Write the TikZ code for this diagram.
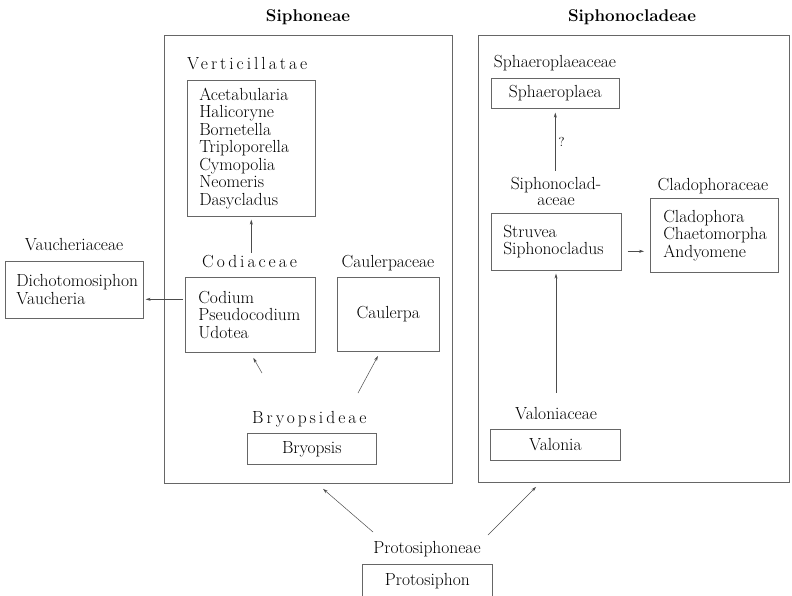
\documentclass[tikz,border=0pt]{standalone}
\usepackage{fontspec}
\setmainfont{Latin Modern Roman}
\usetikzlibrary{arrows.meta,calc}

\newcommand\gesperrt[1]{{\addfontfeature{LetterSpace=17}#1}}

\tikzset{
  every node/.style={font=\fontsize{17.5}{17.5}\selectfont},
  taxbox/.style={draw=black!60, line width=0.6pt, inner xsep=12pt, inner ysep=0pt, anchor=north west},
  bigbox/.style={draw=black!60, line width=0.6pt, inner sep=0pt, anchor=north west},
  famlabel/.style={anchor=base, inner sep=2pt},
  arr/.style={-{Stealth[length=5pt,width=3pt]}, draw=black!70, line width=0.5pt},
}

\begin{document}
\begin{tikzpicture}[x=1pt, y=-1pt]
  \clip (0, 0) rectangle (792, 595);
  % the two groups
  \node[anchor=base, font=\fontsize{17}{17.5}\selectfont\bfseries] (siphtitle) at (308, 21) {Siphoneae};
  \node[anchor=base, font=\fontsize{17}{17.5}\selectfont\bfseries] (cladtitle) at (632, 21) {Siphonocladeae};
  \node[bigbox, minimum width=288, minimum height=448] (siph) at (164, 35) {};
  \node[bigbox, minimum width=311, minimum height=447] (clad) at (478, 35) {};

  % Siphoneae
  \node[famlabel, anchor=base west] (vertl) at (185, 69) {\gesperrt{Verticillatae}};
  \node[taxbox, text width=104, minimum height=136, align=left] (verti) at (187, 80)
    {Acetabularia\\Halicoryne\\Bornetella\\Triploporella\\Cymopolia\\Neomeris\\Dasycladus};
  \node[famlabel, anchor=base west] (codl) at (200, 267) {\gesperrt{Codiaceae}};
  \node[taxbox, inner xsep=13pt, text width=104, minimum height=75, align=left] (codium) at (185, 277)
    {Codium\\Pseudocodium\\Udotea};
  \node[famlabel] (caull) at (388, 267) {Caulerpaceae};
  \node[taxbox, minimum width=102, minimum height=74, align=center] (caul) at (337, 277) {Caulerpa};
  \node[famlabel, anchor=base west] (bryl) at (250, 423) {\gesperrt{Bryopsideae}};
  \node[taxbox, minimum width=129, minimum height=31, align=center] (bryo) at (247, 433) {Bryopsis};
  \node[famlabel] (vauchl) at (74, 250) {Vaucheriaceae};
  \node[taxbox, inner xsep=11pt, text width=116, minimum height=57, align=left] (vauch) at (5, 261)
    {Dichotomosiphon\\Vaucheria};

  % Siphonocladeae
  \node[famlabel] (sphl) at (555, 67) {Sphaeroplaeaceae};
  \node[taxbox, minimum width=128, minimum height=30, align=center] (sphae) at (491, 78) {Sphaeroplaea};
  \node[famlabel, align=center, font=\fontsize{17.5}{16}\selectfont] (scll) at (556, 205) {Siphonoclad-\\aceae};
  \node[taxbox, text width=106, minimum height=57, align=left] (struv) at (491, 213)
    {Struvea\\Siphonocladus};
  \node[famlabel] (cladol) at (713, 190) {Cladophoraceae};
  \node[taxbox, inner xsep=13pt, text width=102, minimum height=74, align=left] (clado) at (650, 198)
    {Cladophora\\Chaetomorpha\\Andyomene};
  \node[famlabel] (vall) at (556, 419) {Valoniaceae};
  \node[taxbox, minimum width=130, minimum height=31, align=center] (valon) at (490, 429) {Valonia};

  % Protosiphoneae
  \node[famlabel] (protl) at (427, 553) {Protosiphoneae};
  \node[taxbox, minimum width=130, minimum height=36, text depth=6pt, align=center] (proto) at (362, 564) {Protosiphon};

  % connectors
  \coordinate (b1) at (262, 373);
  \coordinate (b2) at (358, 393);
  \coordinate (p1) at (373, 532);
  \coordinate (p2) at (488, 535);
  \draw[arr, shorten >=3pt] (codl.north -| verti.south) -- (verti.south);
  \draw[arr, shorten <=2pt, shorten >=2pt] ([yshift=15.5pt]codium.west) -- ([yshift=15.5pt]codium.west -| vauch.east);
  \draw[arr, shorten >=6pt] (b1) -- (codium.south);
  \draw[arr, shorten >=5pt] (b2) -- ([xshift=-8pt]caul.south);
  \draw[arr, shorten >=8pt] (p1) -- ($(siph.south west)!0.53!(siph.south east)$);
  \draw[arr, shorten >=6pt] (p2) -- ($(clad.south west)!0.2!(clad.south east)$);
  \draw[arr, shorten <=4pt, shorten >=4pt] (scll.north -| sphae.south) -- node[right, inner sep=3pt, font=\fontsize{13}{14}\selectfont] {?} (sphae.south);
  \draw[arr, shorten <=6pt, shorten >=6pt] ([yshift=-9.5pt]struv.east) -- ([yshift=-9.5pt]struv.east -| clado.west);
  \draw[arr, shorten <=12pt, shorten >=3pt] (vall.north) -- (vall.north |- struv.south);
\end{tikzpicture}
\end{document}
